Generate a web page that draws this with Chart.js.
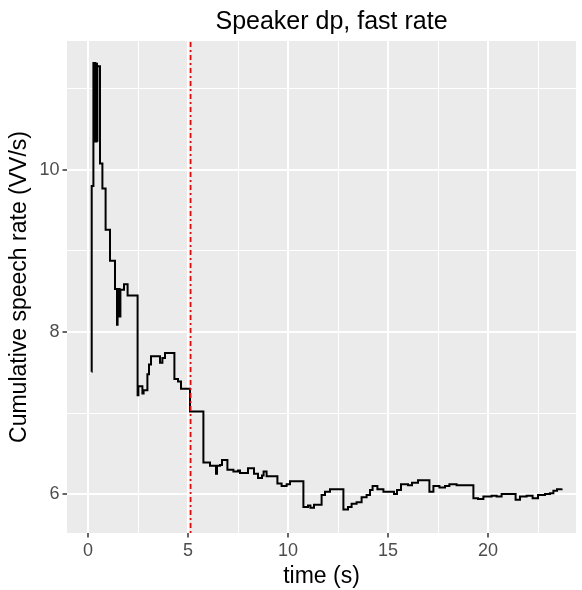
<!DOCTYPE html>
<html>
<head>
<meta charset="utf-8">
<script src="https://cdn.jsdelivr.net/npm/chart.js@4.4.1/dist/chart.umd.min.js"></script>
<style>
    html, body { margin: 0; padding: 0; background: #fff; }
    #wrap { width: 582px; height: 590px; }
</style>
</head>
<body>
<div id="wrap"><canvas id="chart" width="582" height="590"></canvas></div>
<script>
// cumulative speech rate
const times = [
    0.18, 0.185, 0.27, 0.29, 0.31, 0.33, 0.35, 0.37, 0.39, 0.41, 0.43, 0.45, 0.47,
    0.60, 0.72, 0.88, 1.10, 1.35, 1.45, 1.48, 1.58, 1.62, 1.80, 1.98,
    2.48, 2.52, 2.72, 2.78, 2.97, 3.05, 3.15, 3.60, 3.72, 3.85, 4.32, 4.50, 4.65, 5.10,
    5.77, 6.10, 6.40, 6.45, 6.60, 6.70, 6.97, 7.27, 7.50, 7.60, 8.00, 8.30, 8.50, 8.70, 8.78, 8.93, 9.47, 9.68, 9.93, 10.10,
    10.77, 11.00, 11.12, 11.30, 11.68, 11.85, 12.10, 12.77, 13.00, 13.18, 13.43, 13.68, 13.93, 14.10, 14.23, 14.47, 14.77,
    15.30, 15.45, 15.65, 16.00, 16.20, 16.50, 17.07, 17.27, 17.57, 17.85, 18.07, 18.43,
    19.27, 19.50, 19.77, 20.18, 20.43, 20.68, 21.38, 21.60, 21.93, 22.23, 22.50, 22.85, 23.10, 23.27, 23.45, 23.68
];
const rates = [
    7.51, 9.80, 11.32, 10.36, 11.31, 10.35, 11.32, 10.36, 11.30, 10.35, 11.31, 10.36, 11.28,
    10.08, 9.77, 9.26, 8.88, 8.53, 8.09, 8.53, 8.19, 8.52, 8.59, 8.45,
    7.22, 7.33, 7.24, 7.28, 7.48, 7.60, 7.70, 7.62, 7.68, 7.74, 7.42, 7.39, 7.30, 7.02,
    6.39, 6.35, 6.25, 6.35, 6.36, 6.42, 6.30, 6.28, 6.29, 6.26, 6.32, 6.25, 6.20, 6.23, 6.28, 6.22, 6.13, 6.10, 6.12, 6.16,
    5.84, 5.86, 5.83, 5.87, 5.99, 6.03, 6.06, 5.81, 5.84, 5.88, 5.90, 5.96, 5.99, 6.05, 6.10, 6.06, 6.03,
    6.00, 6.05, 6.12, 6.11, 6.14, 6.17, 6.03, 6.10, 6.08, 6.10, 6.12, 6.11,
    5.95, 5.94, 5.97, 5.98, 5.97, 6.00, 5.93, 5.97, 5.98, 5.95, 5.99, 6.00, 6.01, 6.04, 6.06, 6.07
];
const markerTime = 5.13;

const xMajor = [0, 5, 10, 15, 20];
const xMinor = [2.5, 7.5, 12.5, 17.5, 22.5];
const yMajor = [6, 8, 10];
const yMinor = [7, 9, 11];
const xLimits = [-1.05, 24.4];
const yLimits = [5.52, 11.59];

const FONT = '"Liberation Sans", Arial, sans-serif';

const panelBg = {
    id: 'panelBg',
    beforeDraw(chart) {
        const { ctx, chartArea: a } = chart;
        ctx.save();
        ctx.fillStyle = '#EBEBEB';
        ctx.fillRect(a.left, a.top, a.right - a.left, a.bottom - a.top);
        ctx.restore();
    }
};

// title over the panel, like ggplot
const panelTitle = {
    id: 'panelTitle',
    afterDraw(chart) {
        const { ctx, chartArea: a } = chart;
        ctx.save();
        ctx.font = '25px ' + FONT;
        ctx.fillStyle = '#000';
        ctx.textAlign = 'center';
        ctx.textBaseline = 'middle';
        ctx.fillText('Speaker dp, fast rate', (a.left + a.right) / 2 + 10, 22);
        ctx.restore();
    }
};

function gridAxis(major, minor, limits, title, titlePad, size, horizontal) {
    return {
        type: 'linear',
        min: limits[0],
        max: limits[1],
        afterBuildTicks: scale => {
            scale.ticks = major.concat(minor).sort((a, b) => a - b).map(v => ({ value: v }));
        },
        afterFit: scale => {
            if (horizontal) scale.height = size; else scale.width = size;
        },
        border: { display: false },
        grid: {
            color: '#FFFFFF',
            lineWidth: c => major.includes(c.tick.value) ? 2 : 1,
            tickColor: c => major.includes(c.tick.value) ? '#333333' : 'rgba(0,0,0,0)',
            tickLength: 4.5,
            tickWidth: 1.5
        },
        ticks: {
            autoSkip: false,
            maxRotation: 0,
            padding: 3,
            color: '#4D4D4D',
            font: { family: FONT, size: 18 },
            callback: v => major.includes(v) ? String(v) : ''
        },
        title: {
            display: true,
            text: title,
            color: '#000',
            font: { family: FONT, size: 23 },
            padding: { top: titlePad, bottom: 0 }
        }
    };
}

new Chart(document.getElementById('chart'), {
    type: 'line',
    data: {
        datasets: [{
            label: 'marker',
            data: [{ x: markerTime, y: yLimits[0] }, { x: markerTime, y: yLimits[1] }],
            borderColor: '#FF0000',
            borderWidth: 1.8,
            borderDash: [2, 3, 5, 3],
            pointRadius: 0,
            order: 0
        }, {
            label: 'rate',
            data: times.map((t, i) => ({ x: t, y: rates[i] })),
            stepped: 'before',
            borderColor: '#000000',
            borderWidth: 2,
            pointRadius: 0,
            fill: false,
            order: 1
        }]
    },
    options: {
        responsive: false,
        animation: false,
        devicePixelRatio: 1,
        layout: { padding: { top: 41, right: 6, left: 0, bottom: 0 } },
        plugins: {
            legend: { display: false },
            tooltip: { enabled: false },
            title: { display: false }
        },
        scales: {
            x: gridAxis(xMajor, xMinor, xLimits, 'time (s)', 0, 57, true),
            y: gridAxis(yMajor, yMinor, yLimits, 'Cumulative speech rate (VV/s)', 6, 67, false)
        }
    },
    plugins: [panelBg, panelTitle]
});
</script>
</body>
</html>
